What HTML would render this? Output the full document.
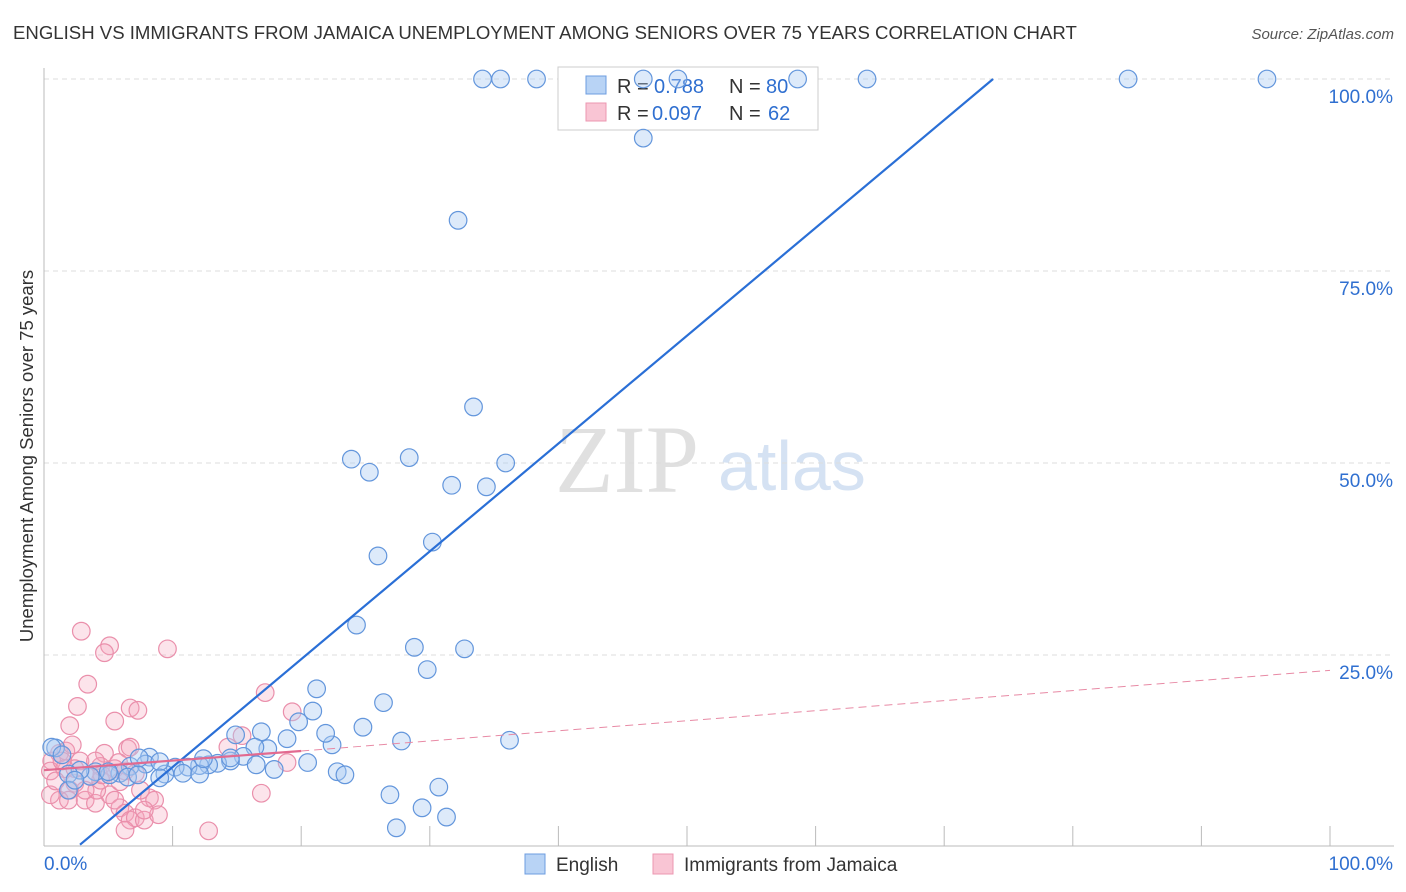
<!DOCTYPE html>
<html><head><meta charset="utf-8">
<style>
body{margin:0;background:#fff;font-family:"Liberation Sans",sans-serif;}
svg{display:block}
</style></head>
<body>
<svg id="chart" width="1406" height="892" xmlns="http://www.w3.org/2000/svg">
<text x="13" y="39" font-size="18.6" fill="#333">ENGLISH VS IMMIGRANTS FROM JAMAICA UNEMPLOYMENT AMONG SENIORS OVER 75 YEARS CORRELATION CHART</text>
<text x="1394" y="39" font-size="15" fill="#555" text-anchor="end" font-style="italic">Source: ZipAtlas.com</text>
<text x="555" y="492" font-size="96" font-family="Liberation Serif,serif" fill="#e0e0e0">ZIP</text>
<text x="718" y="490" font-size="70" fill="#d5e2f3">atlas</text>
<text transform="translate(33,456) rotate(-90)" font-size="18.5" fill="#333" text-anchor="middle">Unemployment Among Seniors over 75 years</text>
<g id="grid"></g>
<g id="axes"></g>
<g>
<rect x="558" y="67" width="260" height="63" fill="#fff" stroke="#ccc"/>
<rect x="586" y="76" width="20" height="18" fill="#b8d3f5" stroke="#6d9de0"/>
<text x="617" y="93" font-size="20" fill="#333">R =</text><text x="654" y="93" font-size="20" fill="#2f6fd0">0.788</text>
<text x="729" y="93" font-size="20" fill="#333">N =</text><text x="766" y="93" font-size="20" fill="#2f6fd0">80</text>
<rect x="586" y="103" width="20" height="18" fill="#f9c5d4" stroke="#ec97b1"/>
<text x="617" y="120" font-size="20" fill="#333">R =</text><text x="652" y="120" font-size="20" fill="#2f6fd0">0.097</text>
<text x="729" y="120" font-size="20" fill="#333">N =</text><text x="768" y="120" font-size="20" fill="#2f6fd0">62</text>
</g>
<g id="pts"></g>
<g id="lines"></g>
<g>
<rect x="525" y="854" width="20" height="20" fill="#b8d3f5" stroke="#6d9de0"/>
<text x="556" y="871" font-size="19" fill="#333">English</text>
<rect x="653" y="854" width="20" height="20" fill="#f9c5d4" stroke="#ec97b1"/>
<text x="684" y="871" font-size="19" fill="#333">Immigrants from Jamaica</text>
</g>
</svg>
<script>
const yTicks=[100,75,50,25];
const xTickLabels=["0.0%","100.0%"];
const englishX=[34.1,35.5,38.3,46.6,49.3,58.6,64.0,84.3,95.1,46.6,32.2,33.4,23.9,28.4,25.3,31.7,34.4,35.9,25.97,30.2,24.3,28.8,32.7,29.8,21.2,26.4,20.9,36.2,27.8,24.8,19.8,22.4,21.9,16.9,18.9,14.9,17.4,16.4,15.5,14.5,13.5,12.8,12.1,11.2,10.2,9.4,10.8,12.1,8.2,7.9,6.7,5.9,5.1,4.0,3.6,2.8,1.9,0.9,0.6,1.4,1.9,2.4,5.0,6.5,7.3,16.5,17.9,20.5,22.8,23.4,26.9,29.4,30.7,31.3,27.4,7.4,9.0,14.5,12.4,9.0];
const englishY=[100,100,100,100,100,100,100,100,100,92.3,81.6,57.3,50.5,50.7,48.8,47.1,46.9,50.0,37.9,39.7,28.9,26.0,25.8,23.1,20.6,18.8,17.7,13.9,13.8,15.6,16.3,13.3,14.8,15.0,14.1,14.6,12.8,13.0,11.8,11.2,10.9,10.7,10.6,10.4,10.4,9.5,9.6,9.5,11.7,10.8,10.5,9.6,9.4,9.8,9.2,10.0,9.5,12.9,13.0,12.0,7.4,8.7,9.8,9.1,9.4,10.7,10.1,11.0,9.8,9.4,6.8,5.1,7.8,3.9,2.5,11.6,11.1,11.6,11.5,9.0];
const jamX=[2.9,5.1,4.7,9.6,3.4,2.6,2.0,5.5,6.7,7.3,17.2,19.3,15.4,14.3,18.9,16.9,12.8,6.5,4.7,1.2,0.6,0.5,1.6,2.4,3.6,4.4,5.5,6.3,7.1,2.0,3.2,4.0,1.2,0.5,5.1,5.9,6.3,6.7,7.1,7.8,8.2,8.6,8.9,4.1,2.8,1.7,6.7,4.0,2.4,5.9,7.5,4.4,0.9,6.3,1.9,3.2,5.5,7.8,1.4,2.2,4.5,5.8];
const jamY=[28.1,26.2,25.3,25.8,21.2,18.3,15.8,16.4,18.1,17.8,20.1,17.6,14.5,13.0,11.0,7.0,2.1,12.8,12.2,12.2,11.2,9.9,10.2,8.3,9.2,10.5,10.2,9.9,9.6,7.4,6.1,5.7,6.1,6.8,6.8,5.1,4.4,3.5,3.8,3.5,6.4,6.1,4.2,7.4,11.2,12.5,13.0,11.2,10.2,8.5,7.4,8.7,8.6,2.2,6.1,7.4,6.1,4.8,11.2,13.3,9.4,11.0];
const svg=document.getElementById('chart');
const NS="http://www.w3.org/2000/svg";
const X0=44,X1=1330,Y0=847,Y100=79;
const sx=v=>X0+(X1-X0)*v/100;
const sy=v=>Y0-(Y0-Y100)*v/100;
function mk(tag,attrs,parent){const e=document.createElementNS(NS,tag);for(const k in attrs)e.setAttribute(k,attrs[k]);parent.appendChild(e);return e;}
const grid=document.getElementById('grid');
yTicks.forEach(t=>{
 const l=mk('line',{x1:44,x2:1394,y1:sy(t),y2:sy(t),stroke:'#ddd','stroke-dasharray':'5,4'},grid);
 
 
 const tx=mk('text',{x:1393,y:sy(t)+24,'font-size':19,fill:'#2f6fd0','text-anchor':'end'},grid);
 tx.textContent=t.toFixed(1)+'%';
 
 
});
const axes=document.getElementById('axes');
const ay=mk('line',{x1:44,x2:44,y1:68,y2:846,stroke:'#bbb'},axes);


const ax=mk('line',{x1:44,x2:1394,y1:846,y2:846,stroke:'#bbb'},axes);


for(let i=0;i<=10;i++){
 const t=mk('line',{x1:sx(i*10),x2:sx(i*10),y1:826,y2:846,stroke:'#bbb'},axes);
 
 
}
const xl0=mk('text',{x:44,y:870,'font-size':19,fill:'#2f6fd0'},axes);xl0.textContent=xTickLabels[0];


const xl1=mk('text',{x:1393,y:870,'font-size':19,fill:'#2f6fd0','text-anchor':'end'},axes);xl1.textContent=xTickLabels[1];


const pts=document.getElementById('pts');
jamX.forEach((v,i)=>{
 const c=mk('circle',{cx:sx(v),cy:sy(jamY[i]),r:8.8,fill:'rgba(244,166,190,0.3)',stroke:'#ea8fab','stroke-width':1.2},pts);
 
 
});
englishX.forEach((v,i)=>{
 const c=mk('circle',{cx:sx(v),cy:sy(englishY[i]),r:8.8,fill:'rgba(170,202,242,0.4)',stroke:'#6396dc','stroke-width':1.2},pts);
 
 
});
const lines=document.getElementById('lines');
const eStart=[2.8,0.3],eEnd=[73.8,100];
const bl=mk('line',{x1:sx(eStart[0]),y1:sy(eStart[1]),x2:sx(eEnd[0]),y2:sy(eEnd[1]),stroke:'#2a6fd6','stroke-width':2.2},lines);


const jStart=10,jSolidEnd=12.5,jEnd=23;
const p1=mk('line',{x1:sx(0),y1:sy(jStart),x2:sx(20),y2:sy(jSolidEnd),stroke:'#e26a90','stroke-width':2.2},lines);


const p2=mk('line',{x1:sx(20),y1:sy(jSolidEnd),x2:sx(100),y2:sy(jEnd),stroke:'#e88aa5','stroke-width':1,'stroke-dasharray':'8,5'},lines);


</script>
</body></html>
